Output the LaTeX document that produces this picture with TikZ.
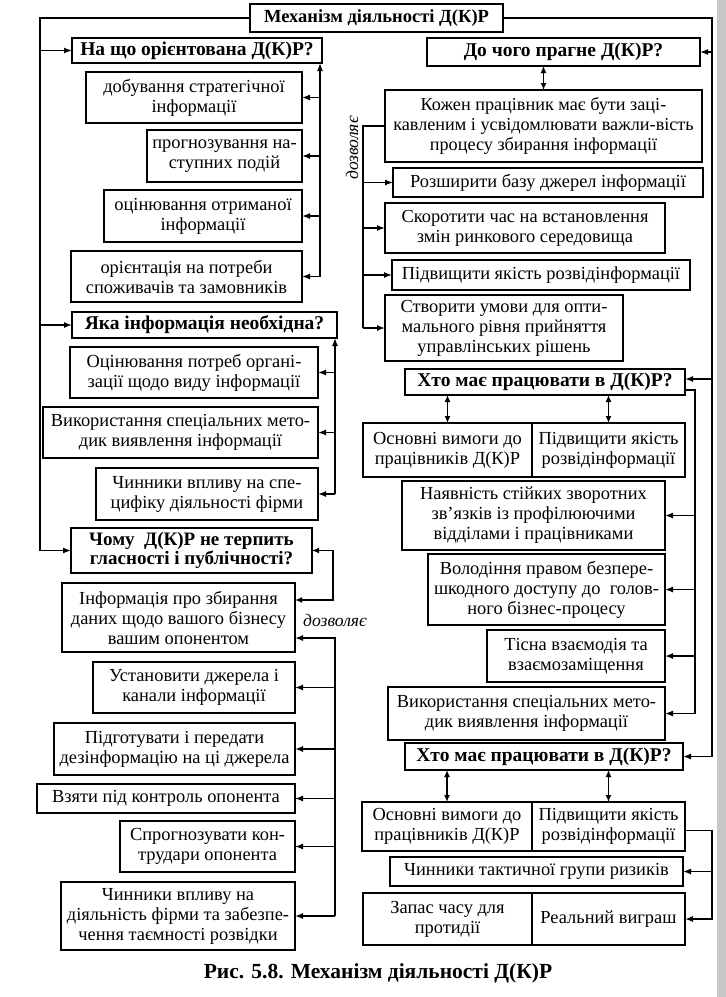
\documentclass[tikz,border=0pt]{standalone}
\usepackage{fontspec}
\setmainfont{Liberation Serif}
\usepackage{tikz}
\usetikzlibrary{arrows.meta, positioning}
\newcommand{\itemfont}{\fontsize{18.4}{20}\selectfont}
\newcommand{\headfont}{\fontsize{19.5}{20}\selectfont\bfseries}
\newcommand{\capfont}{\fontsize{21.5}{24}\selectfont\bfseries}
\tikzset{
  item/.style={rectangle, draw=black, line width=1.4pt, align=center,
    inner sep=0pt, outer sep=0pt, font=\itemfont},
  head/.style={rectangle, draw=black, line width=2.4pt, align=center,
    inner sep=0pt, outer sep=0pt, font=\headfont},
  link/.style={line width=1.5pt},
  arrow/.style={-{Latex[length=8pt, width=6pt]}, line width=1.5pt},
  twoway/.style={{Latex[length=7pt, width=6pt]}-{Latex[length=7pt, width=6pt]}, line width=1.5pt},
  note/.style={font=\fontsize{17.6}{20}\selectfont\itshape},
}
\begin{document}
\begin{tikzpicture}[x=1pt, y=-1pt]
  \useasboundingbox (0,0) rectangle (726,997);
  \fill[black!22] (717,0) rectangle (726,997);

  % ── Title ──
  \node[head, minimum width=253pt, minimum height=28pt, font=\fontsize{18.5}{20}\selectfont\bfseries] (mech) at (376.5,18) {Механізм діяльності Д(К)Р};

  % ── Left column: what it aims at ──
  \node[head, minimum width=250pt, minimum height=25pt] (naso) at (197,50.5) {На що орієнтована Д(К)Р?};
  \node[item, minimum width=216pt, minimum height=51pt] (dob)   at (194,97.5)  {добування стратегічної\\інформації};
  \node[item, minimum width=155pt, minimum height=52pt] (prog)  at (224.5,156) {прогнозування на-\\ступних подій};
  \node[item, minimum width=198pt, minimum height=52pt] (ocin)  at (203,216)   {оцінювання отриманої\\інформації};
  \node[item, minimum width=231pt, minimum height=51pt] (orien) at (186.5,276.5) {орієнтація на потреби\\споживачів та замовників};

  % ── Left column: which information ──
  \node[head, minimum width=265pt, minimum height=26pt] (yaka) at (204.5,325) {Яка інформація необхідна?};
  \node[item, minimum width=248pt, minimum height=51pt] (ocpot) at (194,372.5) {Оцінювання потреб органі-\\зації щодо виду інформації};
  \node[item, minimum width=275pt, minimum height=51pt] (vykl)  at (180.5,432.5) {Використання спеціальних мето-\\дик виявлення інформації};
  \node[item, minimum width=222pt, minimum height=52pt] (chyn1) at (207,494) {Чинники впливу на спе-\\цифіку діяльності фірми};

  % ── Left column: secrecy ──
  \node[head, minimum width=241pt, minimum height=45pt, font=\fontsize{19}{19.5}\selectfont\bfseries] (chomu) at (191.5,550.5) {Чому~ Д(К)Р не терпить\\гласності і публічності?};
  \node[item, minimum width=233pt, minimum height=69pt] (inf)   at (178.5,617.5) {Інформація про збирання\\даних щодо вашого бізнесу\\вашим опонентом};
  \node[item, minimum width=202pt, minimum height=51pt] (ustan) at (194,687.5) {Установити джерела і\\канали інформації};
  \node[item, minimum width=241pt, minimum height=52pt] (pidg)  at (174.5,749) {Підготувати і передати\\дезінформацію на ці джерела};
  \node[item, minimum width=258pt, minimum height=29pt] (vzya)  at (166,798.5) {Взяти під контроль опонента};
  \node[item, minimum width=175pt, minimum height=51pt] (sprog) at (207.5,846.5) {Спрогнозувати кон-\\трудари опонента};
  \node[item, minimum width=234pt, minimum height=68pt] (chyn2) at (178,916) {Чинники впливу на\\діяльність фірми та забезпе-\\чення таємності розвідки};
  \node[note] (allow2) at (335,620) {дозволяє};

  % ── Right column: aims ──
  \node[head, minimum width=273pt, minimum height=28pt] (dochoho) at (563.5,52) {До чого прагне Д(К)Р?};
  \node[item, minimum width=317pt, minimum height=72pt, font=\fontsize{18.2}{20}\selectfont] (kozh) at (543.5,126) {Кожен працівник має бути заці-\\кавленим і усвідомлювати важли-вість\\процесу збирання інформації};
  \node[item, minimum width=310pt, minimum height=29pt] (rozsh) at (548,182.5) {Розширити базу джерел інформації};
  \node[item, minimum width=280pt, minimum height=50pt] (skor)  at (525,228) {Скоротити час на встановлення\\змін ринкового середовища};
  \node[item, minimum width=298pt, minimum height=30pt] (pidv)  at (541,275) {Підвищити якість розвідінформації};
  \node[item, minimum width=238pt, minimum height=66pt] (stvor) at (504,328) {Створити умови для опти-\\мального рівня прийняття\\управлінських рішень};
  \node[note, rotate=90] (allow1) at (352,148) {дозволяє};

  % ── Right column: who works ──
  \node[head, minimum width=280pt, minimum height=26pt] (kho1) at (545,382) {Хто має працювати в Д(К)Р?};
  \node[item, minimum width=169pt, minimum height=54pt] (osn1) at (447.5,450) {Основні вимоги до\\працівників Д(К)Р};
  \node[item, minimum width=153pt, minimum height=54pt, right=0pt of osn1] (pid1) {Підвищити якість\\розвідінформації};
  \node[item, minimum width=263pt, minimum height=69pt] (nayav) at (533.5,515.5) {Наявність стійких зворотних\\зв’язків із профілюючими\\відділами і працівниками};
  \node[item, minimum width=237pt, minimum height=71pt] (volod) at (546.5,589.5) {Володіння правом безпере-\\шкодного доступу до~ голов-\\ного бізнес-процесу};
  \node[item, minimum width=178pt, minimum height=52pt] (tisna) at (576,656) {Тісна взаємодія та\\взаємозаміщення};
  \node[item, minimum width=277pt, minimum height=53pt] (vykr)  at (526.5,713.5) {Використання спеціальних мето-\\дик виявлення інформації};

  % ── Right column: who works, second ──
  \node[head, minimum width=278pt, minimum height=27pt] (kho2) at (544,756.5) {Хто має працювати в Д(К)Р?};
  \node[item, minimum width=170pt, minimum height=49pt] (osn2) at (447,826.5) {Основні вимоги до\\працівників Д(К)Р};
  \node[item, minimum width=153pt, minimum height=49pt, right=0pt of osn2] (pid2) {Підвищити якість\\розвідінформації};
  \node[item, minimum width=293pt, minimum height=29pt] (takt)  at (536.5,871.5) {Чинники тактичної групи ризиків};
  \node[item, minimum width=169pt, minimum height=52pt] (zapas) at (447.5,919) {Запас часу для\\протидії};
  \node[item, minimum width=153pt, minimum height=52pt, right=0pt of zapas] (real) {Реальний виграш};

  % ── Caption ──
  \node[font=\capfont] (caption) at (378,973) {Рис. 5.8. Механізм діяльності Д(К)Р};

  % ── Bus corners ──
  \coordinate (lbus) at (40,18);
  \coordinate (rbus) at (712,18);
  \coordinate (g1) at (320,276.5);
  \coordinate (g2) at (335,494);
  \coordinate (g3) at (333,600);
  \coordinate (g4) at (335,638);
  \coordinate (g4end) at (335,916);
  \coordinate (r1) at (363,126);
  \coordinate (r1end) at (363,328);
  \coordinate (kho1in) at ([yshift=3pt]kho1.east);
  \coordinate (kho1out) at ([yshift=-8pt]kho1.east);
  \coordinate (ib) at (695,390);
  \coordinate (ibend) at (695,713.5);
  \coordinate (pid2out) at ([yshift=-4pt]pid2.east);
  \coordinate (r3) at (712,830.5);

  % ── Main buses ──
  \draw[arrow] (mech.west) -- (lbus) -- (lbus |- chomu.west) -- (chomu.west);
  \draw[arrow] (lbus |- naso.west) -- (naso.west);
  \draw[arrow] (lbus |- yaka.west) -- (yaka.west);
  \draw[arrow] (mech.east) -- (rbus) -- (rbus |- kho2.east) -- (kho2.east);
  \draw[arrow] (rbus |- dochoho.east) -- (dochoho.east);
  \draw[arrow] (rbus |- kho1in) -- (kho1in);

  % ── Left arrows ──
  \draw[arrow] (g1) -- (g1 |- naso.south);
  \draw[arrow] (g1 |- dob.east)   -- (dob.east);
  \draw[arrow] (g1 |- prog.east)  -- (prog.east);
  \draw[arrow] (g1 |- ocin.east)  -- (ocin.east);
  \draw[arrow] (g1 |- orien.east) -- (orien.east);

  \draw[arrow] (g2) -- (g2 |- yaka.south);
  \draw[arrow] (g2 |- ocpot.east) -- (ocpot.east);
  \draw[arrow] (g2 |- vykl.east)  -- (vykl.east);
  \draw[arrow] (g2 |- chyn1.east) -- (chyn1.east);

  \draw[twoway] (chomu.east) -- (g3 |- chomu.east) -- (g3) -- (g3 -| inf.east);
  \draw[arrow] (g4end) -- (g4) -- (g4 -| inf.east);
  \draw[arrow] (g4 |- ustan.east) -- (ustan.east);
  \draw[arrow] (g4 |- pidg.east)  -- (pidg.east);
  \draw[arrow] (g4 |- vzya.east)  -- (vzya.east);
  \draw[arrow] (g4 |- sprog.east) -- (sprog.east);
  \draw[arrow] (g4 |- chyn2.east) -- (chyn2.east);

  % ── Right arrows ──
  \draw[twoway] (kozh.north |- dochoho.south) -- (kozh.north);
  \draw[link] (kozh.west) -- (r1) -- (r1end);
  \draw[arrow] (r1 |- rozsh.west) -- (rozsh.west);
  \draw[arrow] (r1 |- skor.west)  -- (skor.west);
  \draw[arrow] (r1 |- pidv.west)  -- (pidv.west);
  \draw[arrow] (r1end) -- (stvor.west);

  \draw[twoway] (osn1.north |- kho1.south) -- (osn1.north);
  \draw[twoway] (pid1.north |- kho1.south) -- (pid1.north);
  \draw[link] (kho1out) -- (ib) -- (ibend);
  \draw[arrow] (ib |- nayav.east) -- (nayav.east);
  \draw[arrow] (ib |- volod.east) -- (volod.east);
  \draw[arrow] (ib |- tisna.east) -- (tisna.east);
  \draw[arrow] (ibend) -- (vykr.east);

  \draw[twoway] (osn2.north |- kho2.south) -- (osn2.north);
  \draw[twoway] (pid2.north |- kho2.south) -- (pid2.north);
  \draw[arrow] (pid2out) -- (r3) -- (r3 |- real.east) -- (real.east);
  \draw[arrow] (r3 |- takt.east) -- (takt.east);

\end{tikzpicture}
\end{document}
